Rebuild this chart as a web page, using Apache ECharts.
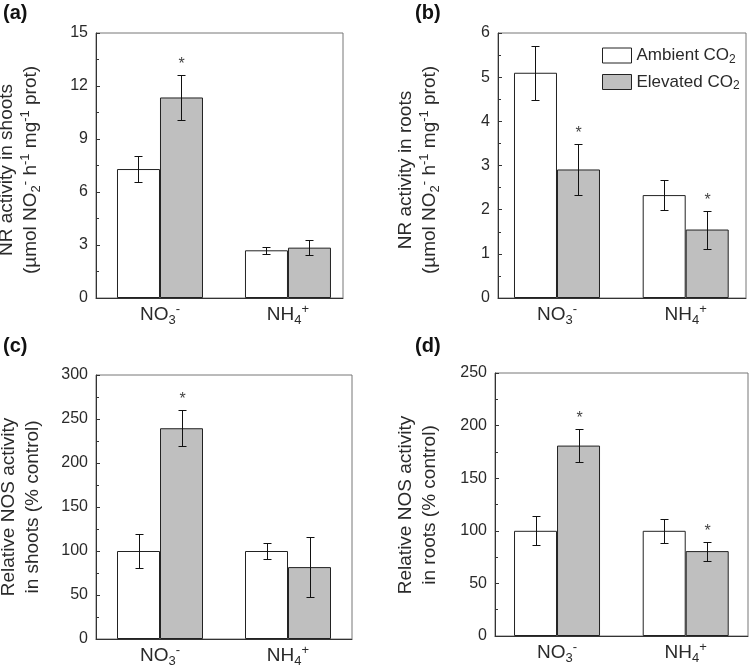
<!DOCTYPE html>
<html><head><meta charset="utf-8">
<script src="https://cdn.jsdelivr.net/npm/echarts@6/dist/echarts.min.js"></script>
<style>html,body{margin:0;padding:0;background:#fff}#c{width:750px;height:669px}</style>
</head><body><div id="c"></div>
<script>
// ---------- data ----------
const categories = ['NO3-', 'NH4+'];
const catPos = [1, 2];
const seriesNames = ['Ambient CO2', 'Elevated CO2'];

// (a) NR activity in shoots
const shootNR_amb = [7.3, 2.7];
const shootNR_ambErr = [0.72, 0.2];
const shootNR_elev = [11.35, 2.85];
const shootNR_elevErr = [1.28, 0.42];
const shootNR_sig = [1, 0];

// (b) NR activity in roots
const rootNR_amb = [5.1, 2.33];
const rootNR_ambErr = [0.61, 0.34];
const rootNR_elev = [2.91, 1.55];
const rootNR_elevErr = [0.58, 0.43];
const rootNR_sig = [1, 1];

// (c) Relative NOS activity in shoots
const shootNOS_amb = [100, 100];
const shootNOS_ambErr = [19.5, 9.3];
const shootNOS_elev = [239.5, 81.7];
const shootNOS_elevErr = [20.5, 34.5];
const shootNOS_sig = [1, 0];

// (d) Relative NOS activity in roots
const rootNOS_amb = [100, 100];
const rootNOS_ambErr = [13.6, 11.4];
const rootNOS_elev = [181, 80.7];
const rootNOS_elevErr = [16, 9];
const rootNOS_sig = [1, 1];

// y-axis ticks
const yTicksA = [0, 3, 6, 9, 12, 15];
const yTicksB = [0, 1, 2, 3, 4, 5, 6];
const yTicksC = [0, 50, 100, 150, 200, 250, 300];
const yTicksD = [0, 50, 100, 150, 200, 250];

// ---------- layout / style ----------
const FONT = 'Liberation Sans, Arial, Helvetica, sans-serif';
const TXT = '#2a2a2a';
const AX = '#333';
const BAR_W = 43;
const CAP = 8;
const STAR_GAP = 11;

const panels = [
  {grid:{left:96, top:33, width:247, height:265}, xr:[0.5, 2.43], yt:yTicksA,
   amb:shootNR_amb, ambE:shootNR_ambErr, elev:shootNR_elev, elevE:shootNR_elevErr, sig:shootNR_sig},
  {grid:{left:498, top:33, width:248, height:265}, xr:[0.5416, 2.4685], yt:yTicksB,
   amb:rootNR_amb, ambE:rootNR_ambErr, elev:rootNR_elev, elevE:rootNR_elevErr, sig:rootNR_sig},
  {grid:{left:96, top:375, width:256, height:264}, xr:[0.5, 2.5], yt:yTicksC,
   amb:shootNOS_amb, ambE:shootNOS_ambErr, elev:shootNOS_elev, elevE:shootNOS_elevErr, sig:shootNOS_sig},
  {grid:{left:495, top:373, width:253, height:263}, xr:[0.518, 2.484], yt:yTicksD,
   amb:rootNOS_amb, ambE:rootNOS_ambErr, elev:rootNOS_elev, elevE:rootNOS_elevErr, sig:rootNOS_sig}
];

const subRich = {
  n: {fontSize:19, fontFamily:FONT, color:TXT, lineHeight:24, verticalAlign:'middle'},
  s: {fontSize:13, fontFamily:FONT, color:TXT, lineHeight:12, verticalAlign:'bottom'},
  p: {fontSize:13, fontFamily:FONT, color:TXT, lineHeight:12, verticalAlign:'top'}
};

function catLabel(v) {
  const i = catPos.indexOf(v);
  if (i === 0) return '{n|NO}{s|3}{p|-}';
  if (i === 1) return '{n|NH}{s|4}{p|+}';
  return '';
}

function errRender(sign) {
  return function (params, api) {
    const x = api.value(0), y = api.value(1), e = api.value(2), sig = api.value(3);
    const c = api.coord([x, y]);
    const cx = Math.round(c[0] + sign * BAR_W / 2) + 0.5;
    const top = Math.round(api.coord([x, y + e])[1]) + 0.5;
    const bot = Math.round(api.coord([x, y - e])[1]) + 0.5;
    const h = CAP / 2;
    const st = {stroke:'#111', lineWidth:1};
    const ch = [
      {type:'line', shape:{x1:cx, y1:top, x2:cx, y2:bot}, style:st},
      {type:'line', shape:{x1:cx-h, y1:top, x2:cx+h, y2:top}, style:st},
      {type:'line', shape:{x1:cx-h, y1:bot, x2:cx+h, y2:bot}, style:st}
    ];
    if (sig) ch.push({type:'text', x:cx, y:top - STAR_GAP,
      style:{text:'*', fontSize:16, fontFamily:FONT, fill:'#444', align:'center', verticalAlign:'middle'}});
    return {type:'group', children:ch};
  };
}

const grids = [], xAxes = [], yAxes = [], series = [];
panels.forEach((p, i) => {
  grids.push(Object.assign({show:true, borderColor:'#777', borderWidth:1, backgroundColor:'transparent'}, p.grid));
  xAxes.push({type:'value', gridIndex:i, min:p.xr[0], max:p.xr[1],
    axisLine:{show:true, onZero:false, lineStyle:{color:AX, width:1}},
    axisTick:{show:false}, splitLine:{show:false},
    axisLabel:{customValues:catPos, formatter:catLabel, rich:subRich, margin:5}});
  const yt = p.yt;
  yAxes.push({type:'value', gridIndex:i, min:yt[0], max:yt[yt.length-1], interval:yt[1]-yt[0],
    axisLine:{show:true, lineStyle:{color:AX, width:1}},
    axisTick:{show:true, inside:true, length:4, lineStyle:{color:AX}},
    minorTick:{show:true, splitNumber:2, length:3, lineStyle:{color:AX}},
    splitLine:{show:false}, minorSplitLine:{show:false},
    axisLabel:{fontSize:16, fontFamily:FONT, color:TXT, margin:8}});
  const mk = (vals) => catPos.map((x, k) => [x, vals[k]]);
  series.push({name:seriesNames[0], type:'bar', xAxisIndex:i, yAxisIndex:i, data:mk(p.amb),
    barWidth:BAR_W, barGap:'0%', itemStyle:{color:'#ffffff', borderColor:'#222', borderWidth:1}, silent:true});
  series.push({name:seriesNames[1], type:'bar', xAxisIndex:i, yAxisIndex:i, data:mk(p.elev),
    barWidth:BAR_W, barGap:'0%', itemStyle:{color:'#bfbfbf', borderColor:'#222', borderWidth:1}, silent:true});
  series.push({type:'custom', xAxisIndex:i, yAxisIndex:i, z:5, renderItem:errRender(-1),
    data:catPos.map((x, k) => [x, p.amb[k], p.ambE[k], 0])});
  series.push({type:'custom', xAxisIndex:i, yAxisIndex:i, z:5, renderItem:errRender(1),
    data:catPos.map((x, k) => [x, p.elev[k], p.elevE[k], p.sig[k]])});
});

const titleRich = {
  t: {fontSize:19, fontFamily:FONT, fill:TXT, lineHeight:24, verticalAlign:'middle'},
  s: {fontSize:13, fontFamily:FONT, fill:TXT, lineHeight:12, verticalAlign:'bottom'},
  p: {fontSize:13, fontFamily:FONT, fill:TXT, lineHeight:12, verticalAlign:'top'}
};
const unitLine = '{t|(µmol NO}{s|2}{p|-}{t| h}{p|-1}{t| mg}{p|-1}{t| prot)}';
const yTitles = [
  {x:19, y:170, text:'{t|NR activity in shoots}\n' + unitLine},
  {x:418, y:170, text:'{t|NR activity in roots}\n' + unitLine},
  {x:21, y:507, text:'{t|Relative NOS activity}\n{t|in shoots (% control)}'},
  {x:418, y:505, text:'{t|Relative NOS activity}\n{t|in roots (% control)}'}
];
const panelLabels = [
  {x:3, y:3, text:'(a)'}, {x:415, y:3, text:'(b)'},
  {x:3, y:336, text:'(c)'}, {x:415, y:336, text:'(d)'}
];
const graphics = [];
yTitles.forEach(t => graphics.push({type:'text', x:t.x, y:t.y, rotation:Math.PI/2,
  style:{text:t.text, rich:titleRich, align:'center', verticalAlign:'middle', fill:TXT}}));
panelLabels.forEach(t => graphics.push({type:'text', x:t.x, y:t.y,
  style:{text:t.text, fontSize:20, fontWeight:'bold', fontFamily:FONT, fill:'#111'}}));

const chart = echarts.init(document.getElementById('c'), null, {renderer:'canvas'});
chart.setOption({
  animation:false,
  backgroundColor:'#fff',
  grid:grids, xAxis:xAxes, yAxis:yAxes, series:series,
  legend:{orient:'vertical', left:597, top:42, itemWidth:29, itemHeight:15, itemGap:8,
    icon:'rect', data:seriesNames,
    itemStyle:{borderColor:'#222', borderWidth:1},
    formatter: n => n === seriesNames[0] ? '{n|Ambient CO}{s|2}' : '{n|Elevated CO}{s|2}',
    textStyle:{rich:{
      n:{fontSize:17, fontFamily:FONT, color:TXT, lineHeight:20, verticalAlign:'middle'},
      s:{fontSize:12, fontFamily:FONT, color:TXT, lineHeight:11, verticalAlign:'bottom'}}}},
  graphic:graphics
});
</script></body></html>
